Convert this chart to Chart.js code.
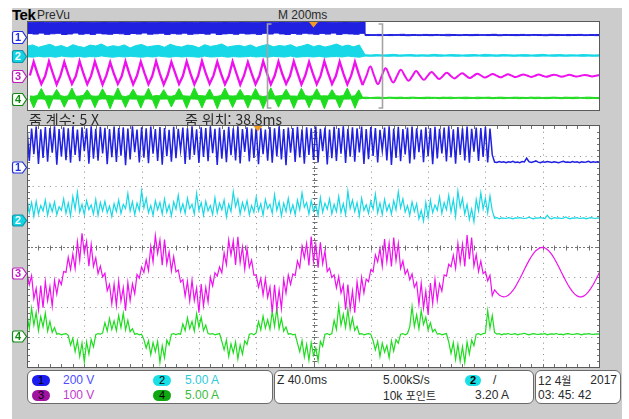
<!DOCTYPE html>
<html lang="ko">
<head>
<meta charset="utf-8">
<title>Tek PreVu</title>
<script src="https://cdn.jsdelivr.net/npm/chart.js@4.4.1/dist/chart.umd.min.js"></script>
<style>
  html, body { margin: 0; padding: 0; background: #fff; }
  #scope { position: relative; width: 629px; height: 419px; overflow: hidden; background: #fff;
           font-family: "Liberation Sans", Arial, sans-serif; color: #2a2a2a; }
  #frame { position: absolute; left: 12px; top: 8px; width: 610px; height: 411px; background: #cccccc; }
  canvas { position: absolute; }
  .t { position: absolute; white-space: nowrap; line-height: 14px; }
  .n { font-family: "Liberation Sans Narrow", "Noto Sans CJK KR", sans-serif; font-size: 14px; }
  .wide .n { font-family: "Liberation Sans", "Noto Sans CJK KR", sans-serif; font-size: 12px; }
  .k { font-family: "Noto Sans CJK KR", sans-serif; font-size: 11px; }
  .kr { font-family: "Noto Sans CJK KR", sans-serif; font-size: 14px; line-height: 16px; }
  .box { position: absolute; top: 370px; height: 34px; box-sizing: border-box; background: #fff;
         border: 1px solid #6a6a6a; border-radius: 6px; }
  .badge { position: absolute; height: 11px; border-radius: 6px; font-size: 11px; line-height: 11px;
           text-align: center; color: #000; font-family: "Liberation Sans", sans-serif; }
</style>
</head>
<body>
<div id="scope">
  <div id="frame"></div>
  <div class="t" style="left:12px;top:7px;font-weight:bold;font-size:15px;line-height:16px;color:#000;letter-spacing:-0.5px">Tek</div>
  <div class="t n" style="left:37px;top:8px">PreVu</div>
  <div class="t n" style="left:278px;top:8px">M 200ms</div>

  <canvas id="overview" width="590" height="90" style="left:11px;top:21px"></canvas>

  <div class="t kr" style="left:29px;top:111px">줌 계수: 5 X</div>
  <div class="t kr" style="left:185px;top:111px">줌 위치: 38.8ms</div>

  <canvas id="zoomed" width="590" height="243" style="left:11px;top:125px"></canvas>

  <div class="box" style="left:27px;width:246px">
    <span class="badge" style="left:4px;top:4px;width:18px;background:#1c1cf0">1</span>
    <span class="t n" style="left:35px;top:2px;color:#4d4dff">200 V</span>
    <span class="badge" style="left:125px;top:4px;width:18px;background:#19dfe6">2</span>
    <span class="t n" style="left:157px;top:2px;color:#2ccbd9">5.00 A</span>
    <span class="badge" style="left:4px;top:19px;width:18px;background:#a012a0">3</span>
    <span class="t n" style="left:35px;top:17px;color:#c13bcf">100 V</span>
    <span class="badge" style="left:125px;top:19px;width:18px;background:#10a810">4</span>
    <span class="t n" style="left:157px;top:17px;color:#3dbb3d">5.00 A</span>
  </div>
  <div class="box" style="left:274px;width:260px">
    <span class="t n" style="left:2px;top:2px">Z 40.0ms</span>
    <span class="t n" style="left:108px;top:2px">5.00kS/s</span>
    <span class="badge" style="left:190px;top:4px;width:16px;background:#19dfe6;font-weight:bold">2</span>
    <span class="t n" style="left:218px;top:2px">/</span>
    <span class="t n" style="left:108px;top:17px">10k <span class="k">포인트</span></span>
    <span class="t n" style="left:200px;top:17px">3.20 A</span>
  </div>
  <div class="box" style="left:535px;width:86px">
    <span class="t n" style="left:2px;top:2px">12 4<span class="k">월</span></span>
    <span class="t n" style="right:3px;top:2px">2017</span>
    <span class="t n" style="left:2px;top:17px">03: 45: 42</span>
  </div>
</div>

<script>
// ---- acquisition settings ----
const recordTimePerDiv = 200;      // ms/div of the full record (M 200ms)
const zoomFactor = 5;              // 줌 계수
const zoomPosition = 38.8;         // ms, 줌 위치 (centre of the zoom window, relative to trigger)
const channelLabels = ['1', '2', '3', '4'];
const channelPerDiv = [200, 5, 100, 5];          // V/div, A/div, V/div, A/div
const channelOffsetDiv = [2.64, 0.88, -0.88, -2.97]; // ground level of each channel, divisions from centre

// ---- zoomed window samples (1.6 ms apart, starting at the left edge of the window) ----
const zoomDt = 1.6;
const zoomCh1 = [
  262, 40, 255, 85, 268, 20, 250, 60, 265, 35, 258, 95, 270, 15, 252, 70, 263, 45, 256, 28,
  268, 80, 249, 38, 264, 105, 257, 22, 270, 55, 253, 42, 266, 90, 260, 18, 251, 65, 269, 33,
  258, 75, 264, 12, 255, 50, 270, 98, 248, 30, 263, 62, 257, 25, 268, 88, 252, 40, 265, 15,
  259, 72, 246, 35, 267, 58, 254, 110, 262, 20, 256, 48, 270, 80, 250, 27, 264, 66, 258, 38,
  269, 92, 253, 14, 261, 55, 247, 32, 266, 78, 257, 44, 270, 24, 251, 100, 263, 36, 255, 60,
  268, 18, 259, 85, 249, 42, 265, 28, 256, 70, 270, 50, 252, 12, 262, 95, 258, 34, 267, 64,
  250, 22, 264, 80, 257, 46, 269, 30, 254, 105, 261, 16, 248, 58, 266, 40, 259, 88, 270, 26,
  253, 68, 263, 35, 256, 96, 268, 20, 251, 52, 265, 74, 258, 30, 247, 108, 262, 44, 270, 14,
  255, 60, 266, 38, 252, 84, 261, 24, 269, 50, 257, 98, 249, 32, 264, 70, 258, 18, 267, 56,
  254, 90, 262, 36, 270, 64, 250, 22, 265, 80, 256, 44, 268, 28, 253, 102, 261, 40, 258, 66,
  266, 30, 255, 80,
  33, 30, 36, 31, 34, 28, 35, 32, 38, 30, 33, 29, 36, 33, 58, 35, 30, 34, 40, 32,
  29, 34, 31, 36, 33, 30, 35, 32, 28, 34, 37, 31, 33, 30, 36, 32, 34, 29, 35, 31,
  33, 38, 30, 34, 32, 35, 31
];
const zoomCh2 = [
  3.6, 1.2, 2.9, 0.6, 3.1, 1.0, 2.4, 1.5, 3.3, 0.8, 2.7, 1.4, 3.0, 0.9, 2.2, 1.6, 3.5, 1.1, 2.8, 0.7,
  3.9, 1.8, 4.6, 1.3, 2.6, 0.9, 3.2, 1.7, 2.5, 1.0, 3.4, 0.8, 2.9, 1.5, 3.1, 1.2, 2.3, 0.6, 2.7, 1.4,
  3.3, 1.1, 2.6, 1.9, 4.4, 1.5, 3.0, 0.9, 2.8, 1.6, 4.8, 2.0, 3.6, 1.2, 2.4, 0.8, 3.2, 1.7, 2.9, 1.0,
  3.5, 1.3, 2.5, 0.7, 3.0, 1.8, 4.1, 1.4, 2.7, 1.1, 3.6, 1.9, 2.6, 1.0, 4.4, 1.6, 2.9, 0.8, 3.1, 1.5,
  2.4, 0.9, 3.7, 1.2, 2.8, 1.7, 3.3, 0.5, 2.6, 1.4, 4.7, 2.2, 3.5, 1.0, 2.9, 1.6, 3.2, 0.9, 2.4, 1.3,
  3.8, 1.5, 2.7, 0.8, 3.4, 1.9, 2.6, 1.1, 4.2, 1.6, 3.0, 0.7, 2.8, 1.4, 3.6, 1.2, 2.5, 0.9, 3.3, 1.7,
  4.5, 2.1, 2.9, 1.0, 3.2, 1.5, 2.4, 0.8, 3.7, 1.3, 2.8, 1.8, 3.5, 1.0, 2.6, 1.4, 3.9, 1.2, 2.7, 0.9,
  4.8, 1.9, 3.3, 1.4, 2.9, 0.7, 3.6, 1.6, 2.5, 1.1, 3.1, 1.8, 4.3, 1.2, 2.8, 0.9, 3.4, 1.5, 2.6, 1.0,
  3.2, 1.7, 4.7, 2.0, 3.5, 1.3, 2.4, 0.8, 3.0, 1.4, 2.7, 0.2, 1.6, -0.2, 2.9, 0.4, 3.3, 1.2, 2.5, 1.6,
  3.8, 1.1, 2.9, 1.7, 4.1, 1.3, 3.4, 0.6, 4.8, 2.1, 3.6, 1.0, 2.6, 0.1, 1.8, -0.3, 3.4, 1.5, 4.5, 1.8,
  3.6, 1.2, 4.0, 1.5,
  0.3, 0.4, 0.2, 0.35, 0.3, 0.25, 0.4, 0.3, 0.2, 0.35, 0.3, 0.4, 0.3, 0.25, 0.3, 0.45, 0.3, 0.2, 0.35, 0.3,
  0.4, 0.3, 0.25, 0.8, 0.3, 0.2, 0.4, 0.3, 0.35, 0.25, 0.3, 0.5, 0.3, 0.2, 0.35, 0.3, 0.4, 0.25, 0.3, 0.35,
  0.2, 0.3, 0.4, 0.3, 0.25, 0.35, 0.3
];
const zoomCh3 = [
  1, -39, -9, -85, -51, -122, -42, -115, -28, -92,
  -45, -110, -25, -70, -22, -38, 5, 2, 52, 12,
  63, 15, 104, 42, 132, 66, 105, 23, 95, 22,
  50, -2, 23, -13, -1, -59, -38, -102, -37, -108,
  -27, -94, -49, -125, -32, -92, -36, -69, -5, -17,
  20, 2, 43, 8, 88, 37, 124, 65, 110, 26,
  111, 30, 70, 7, 54, 4, 10, -30, -22, -77,
  -28, -93, -24, -91, -50, -132, -37, -109, -48, -96,
  -14, -43, 1, -10, 20, 1, 67, 28, 110, 60,
  107, 27, 120, 35, 86, 13, 81, 19, 43, -7,
  -6, -47, -18, -73, -19, -81, -47, -131, -39, -119,
  -56, -118, -22, -67, -7, -38, -3, -8, 40, 18,
  88, 50, 98, 25, 121, 39, 95, 18, 102, 31,
  73, 5, 16, -15, -6, -49, -12, -66, -40, -122,
  -38, -121, -60, -132, -29, -86, -15, -66, -20, -29,
  11, 4, 60, 37, 81, 22, 113, 38, 99, 22,
  118, 41, 98, 15, 40, -4, 11, -22, -3, -47,
  -31, -104, -34, -116, -60, -138, -33, -101, -21, -91,
  -36, -60, -6, -10, 29, 21, 59, 15, 98, 34,
  95, 22, 126, 46, 118, 23, 61, 5, 40, -2,
  5, -26, -8, -75, -56, -65, -73, -77, -79, -78,
  -74, -67, -58, -47, -33, -19, -4, 12, 27, 41,
  54, 65, 74, 80, 84, 85, 83, 78, 71, 61,
  49, 35, 21, 5, -10, -25, -39, -51, -62, -70,
  -76, -79, -79, -76, -70, -62, -51, -39, -25, -10,
  6
];
const zoomCh4 = [
  3.6, 1.2, 4.6, 1.8, 3.9, 0.9, 3.2, 1.5, 3.8, 0.8, 2.4, 0.6, 1.4, 0.3, 0.4, 0.2, 0.3, 0.4, 0.1, -1.5,
  -0.4, -2.6, -0.8, -3.4, -1.2, -4.3, -1.0, -3.0, -0.6, -1.8, 0.2, 0.4, 0.3, 0.5, 2.2, 0.8, 2.9, 1.1, 2.5, 0.9,
  3.4, 1.4, 3.8, 1.0, 2.6, 0.7, 1.2, 0.3, 0.4, 0.2, 0.3, -0.6, -2.0, -0.8, -3.1, -1.1, -2.6, -0.9, -4.4, -1.6,
  -3.6, -0.7, -1.5, 0.3, 0.4, 0.2, 0.4, 0.3, 2.0, 0.9, 3.0, 1.2, 2.4, 0.8, 3.7, 1.5, 3.1, 0.9, 1.8, 0.4,
  0.3, 0.4, 0.2, 0.3, 0.4, -0.9, -2.3, -0.7, -3.4, -1.3, -2.8, -1.0, -3.8, -1.5, -3.0, -0.8, -1.4, 0.3, 0.4, 0.2,
  0.5, 2.4, 1.0, 3.3, 1.3, 2.7, 1.1, 4.1, 1.6, 4.6, 1.2, 2.9, 0.8, 1.5, 0.3, 0.4, 0.2, 0.3, -1.2, -2.6,
  -0.8, -3.5, -1.4, -4.0, -1.1, -3.2, -2.0, -4.1, -0.9, -1.7, 0.3, 0.4, 0.2, 0.4, 2.6, 1.1, 5.0, 1.8, 3.6, 1.4,
  4.4, 1.2, 3.0, 0.9, 1.6, 0.3, 0.4, 0.2, 0.3, 0.4, 0.3, -0.8, -2.3, -0.9, -3.4, -1.2, -2.7, -1.6, -3.6, -0.8,
  -2.5, -0.6, -1.2, 0.3, 0.4, 0.2, 0.4, 1.5, 4.9, 1.6, 3.5, 1.2, 4.2, 1.9, 3.1, 1.0, 2.2, 0.7, 1.1, 0.3,
  0.4, 0.2, 0.3, 0.4, -1.0, -2.9, -1.1, -3.9, -1.4, -4.2, -1.8, -4.4, -1.0, -3.0, -0.7, -1.6, 0.3, 0.4, 0.2, 0.4,
  0.5, 4.2, 1.3, 3.4,
  0.6, 0.3, 0.4, 0.2, 0.35, 0.3, 0.4, 0.25, 0.3, 0.4, 0.2, 0.3, 0.35, 0.45, 0.3, 0.2, 0.3, 0.4, 0.3, 0.25,
  0.35, 0.3, 0.4, 0.2, 0.3, 0.35, 0.3, 0.4, 0.25, 0.3, 0.2, 0.35, 0.4, 0.3, 0.25, 0.3, 0.4, 0.3, 0.2, 0.35,
  0.3, 0.4, 0.3, 0.25, 0.3, 0.35, 0.3
];

// ---- full-record preview: envelopes every 20 ms from -1000 ms ----
const previewEnvT0 = -1000, previewEnvDt = 20;
const previewCh1Hi = [
  268, 266, 270, 265, 269, 267, 271, 264, 268, 270, 266, 269, 267, 271, 265, 268, 270, 266, 269, 267,
  270, 265, 268, 271, 266, 269, 267, 270, 264, 268, 271, 266, 269, 265, 270, 267, 268, 271, 266, 269,
  267, 270, 265, 268, 271, 266, 269, 267, 270, 264, 268, 271, 266, 269, 265, 270, 267, 268, 270,
  44, 42, 46, 41, 45, 43, 48, 42, 44, 41, 46, 43, 45, 42, 47, 44, 41, 45, 43, 46,
  42, 44, 48, 41, 45, 43, 44, 46, 42, 45, 43, 41, 47, 44, 42, 45, 43, 46, 41, 44, 45, 43
];
const previewCh1Lo = [
  62, 52, 70, 48, 58, 66, 45, 54, 71, 50, 60, 47, 68, 55, 49, 65, 57, 44, 63, 53,
  72, 50, 58, 67, 46, 61, 52, 69, 48, 58, 64, 51, 70, 45, 56, 62, 49, 67, 54, 59,
  47, 66, 53, 71, 55, 46, 63, 50, 68, 57, 48, 65, 52, 70, 47, 60, 55, 49, 66,
  26, 28, 24, 27, 25, 29, 26, 23, 28, 25, 27, 24, 29, 26, 22, 27, 25, 28, 24, 26,
  29, 25, 27, 23, 28, 26, 24, 27, 25, 29, 26, 23, 28, 25, 27, 24, 26, 28, 25, 27, 24, 26
];
const previewCh2Hi = [
  4.6, 5.2, 4.1, 4.8, 5.5, 4.3, 4.9, 3.9, 5.3, 4.5, 4.0, 5.1, 4.7, 5.6, 4.2, 4.8, 4.4, 5.2, 3.8, 4.9,
  5.4, 4.3, 4.7, 5.0, 4.1, 5.5, 4.6, 4.2, 5.1, 4.8, 3.9, 5.3, 4.5, 4.9, 5.6, 4.2, 4.7, 5.0, 4.4, 5.2,
  4.0, 4.8, 5.4, 4.3, 4.9, 4.6, 5.3, 4.1, 4.7, 5.5, 4.4, 5.0, 4.2, 4.8, 5.6, 4.5, 5.1, 4.3, 5.2,
  0.7, 0.6, 0.8, 0.6, 0.7, 0.9, 0.6, 0.7, 0.8, 0.6, 0.7, 0.6, 0.9, 0.7, 0.6, 0.8, 0.7, 0.6, 0.7, 0.8,
  0.6, 0.9, 0.7, 0.6, 0.8, 0.7, 0.6, 0.7, 0.8, 0.6, 0.7, 0.9, 0.6, 0.7, 0.8, 0.6, 0.7, 0.6, 0.8, 0.7, 0.6, 0.7
];
const previewCh2Lo = [
  -0.2, -0.4, 0.0, -0.3, -0.1, -0.4, 0.1, -0.2, -0.3, 0.0, -0.4, -0.1, -0.3, 0.2, -0.2, -0.4, -0.1, -0.3, 0.0, -0.2,
  -0.4, -0.1, -0.3, 0.1, -0.2, -0.4, 0.0, -0.3, -0.1, -0.2, -0.4, 0.1, -0.3, -0.2, 0.0, -0.4, -0.1, -0.3, -0.2, 0.0,
  -0.3, -0.1, -0.4, 0.0, -0.2, -0.3, 0.1, -0.4, -0.2, -0.1, -0.3, 0.0, -0.4, -0.2, -0.1, -0.3, 0.1, -0.2, -0.4,
  0.1, 0.0, 0.1, 0.1, 0.0, 0.1, 0.0, 0.1, 0.1, 0.0, 0.1, 0.0, 0.1, 0.0, 0.1, 0.1, 0.0, 0.1, 0.0, 0.1,
  0.1, 0.0, 0.1, 0.0, 0.1, 0.1, 0.0, 0.1, 0.0, 0.1, 0.0, 0.1, 0.1, 0.0, 0.1, 0.0, 0.1, 0.1, 0.0, 0.1, 0.0, 0.1
];

// ---- full-record preview: 13.35 ms apart from -990 ms ----
const previewWaveT0 = -990, previewWaveDt = 13.35;
const previewStepIndex = 87;   // first sample after the drive stops
const previewCh3 = [
  2, 126, 18, -76, -4, 130, 22, -80, 0, 124,
  16, -74, -6, 132, 20, -78, -2, 128, 24, -82,
  3, 122, 15, -75, -5, 130, 19, -79, -1, 127,
  21, -77, -3, 131, 17, -81, 1, 125, 23, -76,
  -4, 129, 18, -80, -2, 133, 20, -74, 0, 126,
  16, -78, -5, 128, 22, -82, 2, 124, 19, -77,
  -3, 131, 21, -79, -1, 127, 15, -75, -4, 130,
  24, -81, 1, 125, 18, -78, -2, 132, 20, -76,
  -3, 128, 17, -80, 0, 126, 14,
  -85, -2, 84, 1, -76, -3, 68, 0, -61, -2,
  53, 1, -47, -3, 42, 0, -38, -2, 33, 1,
  -30, -2, 27, 0, -25, -1, 22, 1, -21, -2,
  18, 0, -17, -1, 15, 1, -15, -2, 13, 0,
  -13, -1, 11, 1, -11, -2, 10, 0, -10, -1,
  9, 1, -9, -2, 8, 0, -8, -1, 7, 1,
  -7, -1, 7
];
const previewCh4Hi = [
  1.2, 1.1, 1.4, 4.6, 1.2, 1.3, 1.2, 4.2, 1.4, 1.0,
  1.3, 4.8, 1.1, 1.2, 1.5, 4.0, 1.3, 1.1, 1.2, 4.5,
  1.4, 1.3, 1.1, 4.9, 1.2, 1.0, 1.4, 4.3, 1.3, 1.2,
  1.2, 4.7, 1.1, 1.4, 1.3, 4.1, 1.2, 1.1, 1.5, 4.6,
  1.3, 1.2, 1.1, 5.0, 1.4, 1.3, 1.2, 4.4, 1.0, 1.1,
  1.4, 4.8, 1.3, 1.2, 1.3, 4.2, 1.2, 1.4, 1.1, 4.6,
  1.3, 1.0, 1.2, 4.9, 1.1, 1.3, 1.4, 4.3, 1.2, 1.2,
  1.1, 4.7, 1.4, 1.1, 1.3, 4.5, 1.2, 1.3, 1.2, 4.1,
  1.3, 1.2, 1.4, 4.8, 1.1, 1.3, 4.0,
  0.6, 0.7, 0.5, 0.6, 0.7, 0.6, 0.5, 0.7, 0.6, 0.6, 0.7, 0.5, 0.6, 0.7, 0.6, 0.5, 0.6, 0.7, 0.6, 0.6,
  0.5, 0.7, 0.6, 0.7, 0.5, 0.6, 0.6, 0.7, 0.6, 0.5, 0.7, 0.6, 0.6, 0.7, 0.5, 0.6, 0.7, 0.6, 0.5, 0.6,
  0.7, 0.6, 0.6, 0.5, 0.7, 0.6, 0.7, 0.5, 0.6, 0.6, 0.7, 0.6, 0.5, 0.7, 0.6, 0.6, 0.7, 0.5, 0.6, 0.7,
  0.6, 0.5, 0.6
];
const previewCh4Lo = [
  -0.2, -4.2, -0.2, -0.1, -0.3, -4.5, -0.1, -0.2, -0.2, -3.9,
  -0.3, -0.1, -0.2, -4.4, -0.2, -0.2, -0.1, -4.1, -0.3, -0.1,
  -0.2, -4.6, -0.2, -0.2, -0.3, -4.0, -0.1, -0.2, -0.2, -4.3,
  -0.2, -0.1, -0.3, -4.5, -0.2, -0.2, -0.1, -3.8, -0.3, -0.2,
  -0.2, -4.4, -0.1, -0.2, -0.3, -4.2, -0.2, -0.1, -0.2, -4.6,
  -0.2, -0.2, -0.1, -4.0, -0.3, -0.2, -0.2, -4.3, -0.1, -0.2,
  -0.3, -4.5, -0.2, -0.1, -0.2, -3.9, -0.2, -0.2, -0.1, -4.4,
  -0.3, -0.2, -0.2, -4.1, -0.1, -0.2, -0.3, -4.6, -0.2, -0.1,
  -0.2, -4.2, -0.2, -0.2, -0.1, -4.4, -0.2,
  0.1, 0.0, 0.2, 0.1, 0.1, 0.0, 0.1, 0.2, 0.1, 0.0, 0.1, 0.1, 0.0, 0.2, 0.1, 0.1, 0.0, 0.1, 0.1, 0.2,
  0.0, 0.1, 0.1, 0.0, 0.1, 0.2, 0.1, 0.0, 0.1, 0.1, 0.0, 0.1, 0.2, 0.1, 0.0, 0.1, 0.1, 0.0, 0.2, 0.1,
  0.1, 0.0, 0.1, 0.1, 0.2, 0.0, 0.1, 0.1, 0.0, 0.1, 0.2, 0.1, 0.0, 0.1, 0.1, 0.0, 0.1, 0.2, 0.1, 0.0,
  0.1, 0.1, 0.0
];

// ---- colours and marker styles ----
const traceColors = ['#2020e0', '#16d8e6', '#ee10ee', '#1edc1e'];
const markerStyles = [
  { fill: '#ffffff', stroke: '#2030e0', text: '#2030e0' },
  { fill: '#14d4e4', stroke: '#0a98aa', text: '#ffffff' },
  { fill: '#ffffff', stroke: '#c01cc0', text: '#c01cc0' },
  { fill: '#ffffff', stroke: '#118a11', text: '#118a11' }
];

// pick the condensed face when it is installed
(function () {
  const c = document.createElement('canvas').getContext('2d');
  const s = 'abcdefghijkWMQ0123456789';
  c.font = '20px monospace';
  const w1 = c.measureText(s).width;
  c.font = '20px "Liberation Sans Narrow", monospace';
  if (c.measureText(s).width === w1) document.getElementById('scope').classList.add('wide');
})();

// ---- time axes ----
const recordSpan = recordTimePerDiv * 10;
const zoomSpan = recordSpan / zoomFactor;
const zoomStart = zoomPosition - zoomSpan / 2;
const zoomEnd = zoomPosition + zoomSpan / 2;

function channelAxes() {
  const s = {};
  channelPerDiv.forEach((perDiv, k) => {
    s['c' + (k + 1)] = { axis: 'y', type: 'linear', display: false,
      min: (-4 - channelOffsetDiv[k]) * perDiv, max: (4 - channelOffsetDiv[k]) * perDiv };
  });
  return s;
}

function series(vals, t0, dt) { return vals.map((v, i) => ({ x: t0 + i * dt, y: v })); }

function line(data, k, width, extra) {
  return Object.assign({ data, yAxisID: 'c' + (k + 1), borderColor: traceColors[k],
    backgroundColor: traceColors[k], borderWidth: width, pointRadius: 0, tension: 0, fill: false }, extra || {});
}

function options(xmin, xmax) {
  return {
    responsive: false, animation: false, events: [],
    layout: { padding: { left: 16, right: 1, top: 1, bottom: 1 } },
    plugins: { legend: { display: false }, tooltip: { enabled: false } },
    scales: Object.assign({
      x: { type: 'linear', min: xmin, max: xmax, display: false },
      div: { axis: 'y', type: 'linear', min: -4, max: 4, display: false }
    }, channelAxes())
  };
}

// ---- drawing helpers for the plugins ----
function seg(ctx, x1, y1, x2, y2) { ctx.beginPath(); ctx.moveTo(x1, y1); ctx.lineTo(x2, y2); ctx.stroke(); }

function paintBackground(chart) {
  const { ctx, chartArea: a } = chart;
  ctx.save(); ctx.fillStyle = '#ffffff';
  ctx.fillRect(a.left, a.top, a.right - a.left, a.bottom - a.top); ctx.restore();
}

function paintBorder(chart) {
  const { ctx, chartArea: a } = chart;
  ctx.save(); ctx.strokeStyle = '#5a5a5a'; ctx.lineWidth = 1;
  ctx.strokeRect(Math.floor(a.left) + 0.5, Math.floor(a.top) - 0.5,
    Math.round(a.right - a.left) - 1, Math.round(a.bottom - a.top) + 1);
  ctx.restore();
}

function paintTrigger(chart) {
  const { ctx, chartArea: a, scales: { x } } = chart;
  const px = x.getPixelForValue(0);
  ctx.save(); ctx.fillStyle = '#f29a22';
  ctx.beginPath(); ctx.moveTo(px - 4.5, a.top); ctx.lineTo(px + 4.5, a.top); ctx.lineTo(px, a.top + 5.5);
  ctx.closePath(); ctx.fill(); ctx.restore();
}

function paintMarkers(chart, h) {
  const { ctx, chartArea: a, scales } = chart;
  const tip = a.left - 0.5, left = 1.5;
  ctx.save();
  channelLabels.forEach((label, k) => {
    const y = Math.round(scales['c' + (k + 1)].getPixelForValue(0)) + 0.5;
    const st = markerStyles[k], r = 2;
    ctx.beginPath();
    ctx.moveTo(left + r, y - h / 2); ctx.lineTo(tip - 4, y - h / 2); ctx.lineTo(tip, y);
    ctx.lineTo(tip - 4, y + h / 2); ctx.lineTo(left + r, y + h / 2);
    ctx.quadraticCurveTo(left, y + h / 2, left, y + h / 2 - r); ctx.lineTo(left, y - h / 2 + r);
    ctx.quadraticCurveTo(left, y - h / 2, left + r, y - h / 2); ctx.closePath();
    ctx.fillStyle = st.fill; ctx.fill();
    ctx.lineWidth = 1.2; ctx.strokeStyle = st.stroke; ctx.stroke();
    ctx.fillStyle = st.text; ctx.font = 'bold 11px "Liberation Sans", sans-serif';
    ctx.textAlign = 'center'; ctx.textBaseline = 'middle';
    ctx.fillText(label, left + 5.5, y + 0.5);
  });
  ctx.restore();
}

function paintGraticule(chart) {
  const { ctx, chartArea: a, scales: { x, div } } = chart;
  const tDiv = (x.max - x.min) / 10;
  const px = v => Math.round(x.getPixelForValue(v)) + 0.5;
  const py = v => Math.round(div.getPixelForValue(v)) + 0.5;
  ctx.save();
  ctx.lineWidth = 1; ctx.strokeStyle = '#8a8a8a'; ctx.setLineDash([1, 4.7]);
  for (let k = 1; k < 10; k++) { if (k !== 5) { const X = px(x.min + k * tDiv); seg(ctx, X, a.top, X, a.bottom); } }
  for (let k = -3; k <= 3; k++) { if (k !== 0) { const Y = py(k); seg(ctx, a.left, Y, a.right, Y); } }
  const cx = px(x.min + 5 * tDiv), cy = py(0);
  ctx.strokeStyle = '#777777'; ctx.setLineDash([2, 2]);
  seg(ctx, cx, a.top, cx, a.bottom); seg(ctx, a.left, cy, a.right, cy);
  ctx.setLineDash([]); ctx.strokeStyle = '#6f6f6f';
  for (let m = 1; m < 50; m++) {
    const X = px(x.min + m * tDiv / 5);
    seg(ctx, X, cy - 2, X, cy + 3);
    seg(ctx, X, a.top, X, a.top + 3);
    seg(ctx, X, a.bottom - 3, X, a.bottom);
  }
  for (let m = 1; m < 40; m++) {
    const Y = py(-4 + m / 5);
    seg(ctx, cx - 2, Y, cx + 3, Y);
    seg(ctx, a.left, Y, a.left + 3, Y);
    seg(ctx, a.right - 3, Y, a.right, Y);
  }
  ctx.restore();
}

function paintZoomBracket(chart) {
  const { ctx, chartArea: a, scales: { x } } = chart;
  const xs = Math.round(x.getPixelForValue(zoomStart)) + 0.5;
  const xe = Math.round(x.getPixelForValue(zoomEnd)) + 0.5;
  ctx.save(); ctx.strokeStyle = '#a4a4a4'; ctx.lineWidth = 1.6;
  ctx.beginPath(); ctx.moveTo(xs + 4, a.top + 2); ctx.lineTo(xs, a.top + 2); ctx.lineTo(xs, a.bottom - 2); ctx.lineTo(xs + 4, a.bottom - 2); ctx.stroke();
  ctx.beginPath(); ctx.moveTo(xe - 4, a.top + 2); ctx.lineTo(xe, a.top + 2); ctx.lineTo(xe, a.bottom - 2); ctx.lineTo(xe - 4, a.bottom - 2); ctx.stroke();
  ctx.restore();
}

// ---- full-record preview ----
const ch3Points = series(previewCh3, previewWaveT0, previewWaveDt);
new Chart(document.getElementById('overview'), {
  type: 'line',
  data: {
    datasets: [
      line(series(previewCh1Hi, previewEnvT0, previewEnvDt), 0, 1, { stepped: 'before' }),
      line(series(previewCh1Lo, previewEnvT0, previewEnvDt), 0, 1, { stepped: 'before', fill: '-1' }),
      line(series(previewCh2Hi, previewEnvT0, previewEnvDt), 1, 1),
      line(series(previewCh2Lo, previewEnvT0, previewEnvDt), 1, 1, { fill: '-1' }),
      line(ch3Points.slice(0, previewStepIndex + 1), 2, 2.3),
      line(ch3Points.slice(previewStepIndex), 2, 2, { tension: 0.4 }),
      line(series(previewCh4Hi, previewWaveT0, previewWaveDt), 3, 1),
      line(series(previewCh4Lo, previewWaveT0, previewWaveDt), 3, 1, { fill: '-1' })
    ]
  },
  options: options(-recordSpan / 2, recordSpan / 2),
  plugins: [{
    id: 'previewDecor',
    beforeDraw: paintBackground,
    afterDatasetsDraw(chart) { paintZoomBracket(chart); paintBorder(chart); paintTrigger(chart); paintMarkers(chart, 12); }
  }]
});

// ---- zoomed window ----
new Chart(document.getElementById('zoomed'), {
  type: 'line',
  data: {
    datasets: [
      line(series(zoomCh1, zoomStart, zoomDt), 0, 1.5),
      line(series(zoomCh2, zoomStart, zoomDt), 1, 1.2),
      line(series(zoomCh3, zoomStart, zoomDt), 2, 1.2),
      line(series(zoomCh4, zoomStart, zoomDt), 3, 1.2)
    ]
  },
  options: options(zoomStart, zoomEnd),
  plugins: [{
    id: 'zoomDecor',
    beforeDraw: paintBackground,
    beforeDatasetsDraw: paintGraticule,
    afterDatasetsDraw(chart) { paintBorder(chart); paintTrigger(chart); paintMarkers(chart, 11); }
  }]
});
</script>
</body>
</html>
